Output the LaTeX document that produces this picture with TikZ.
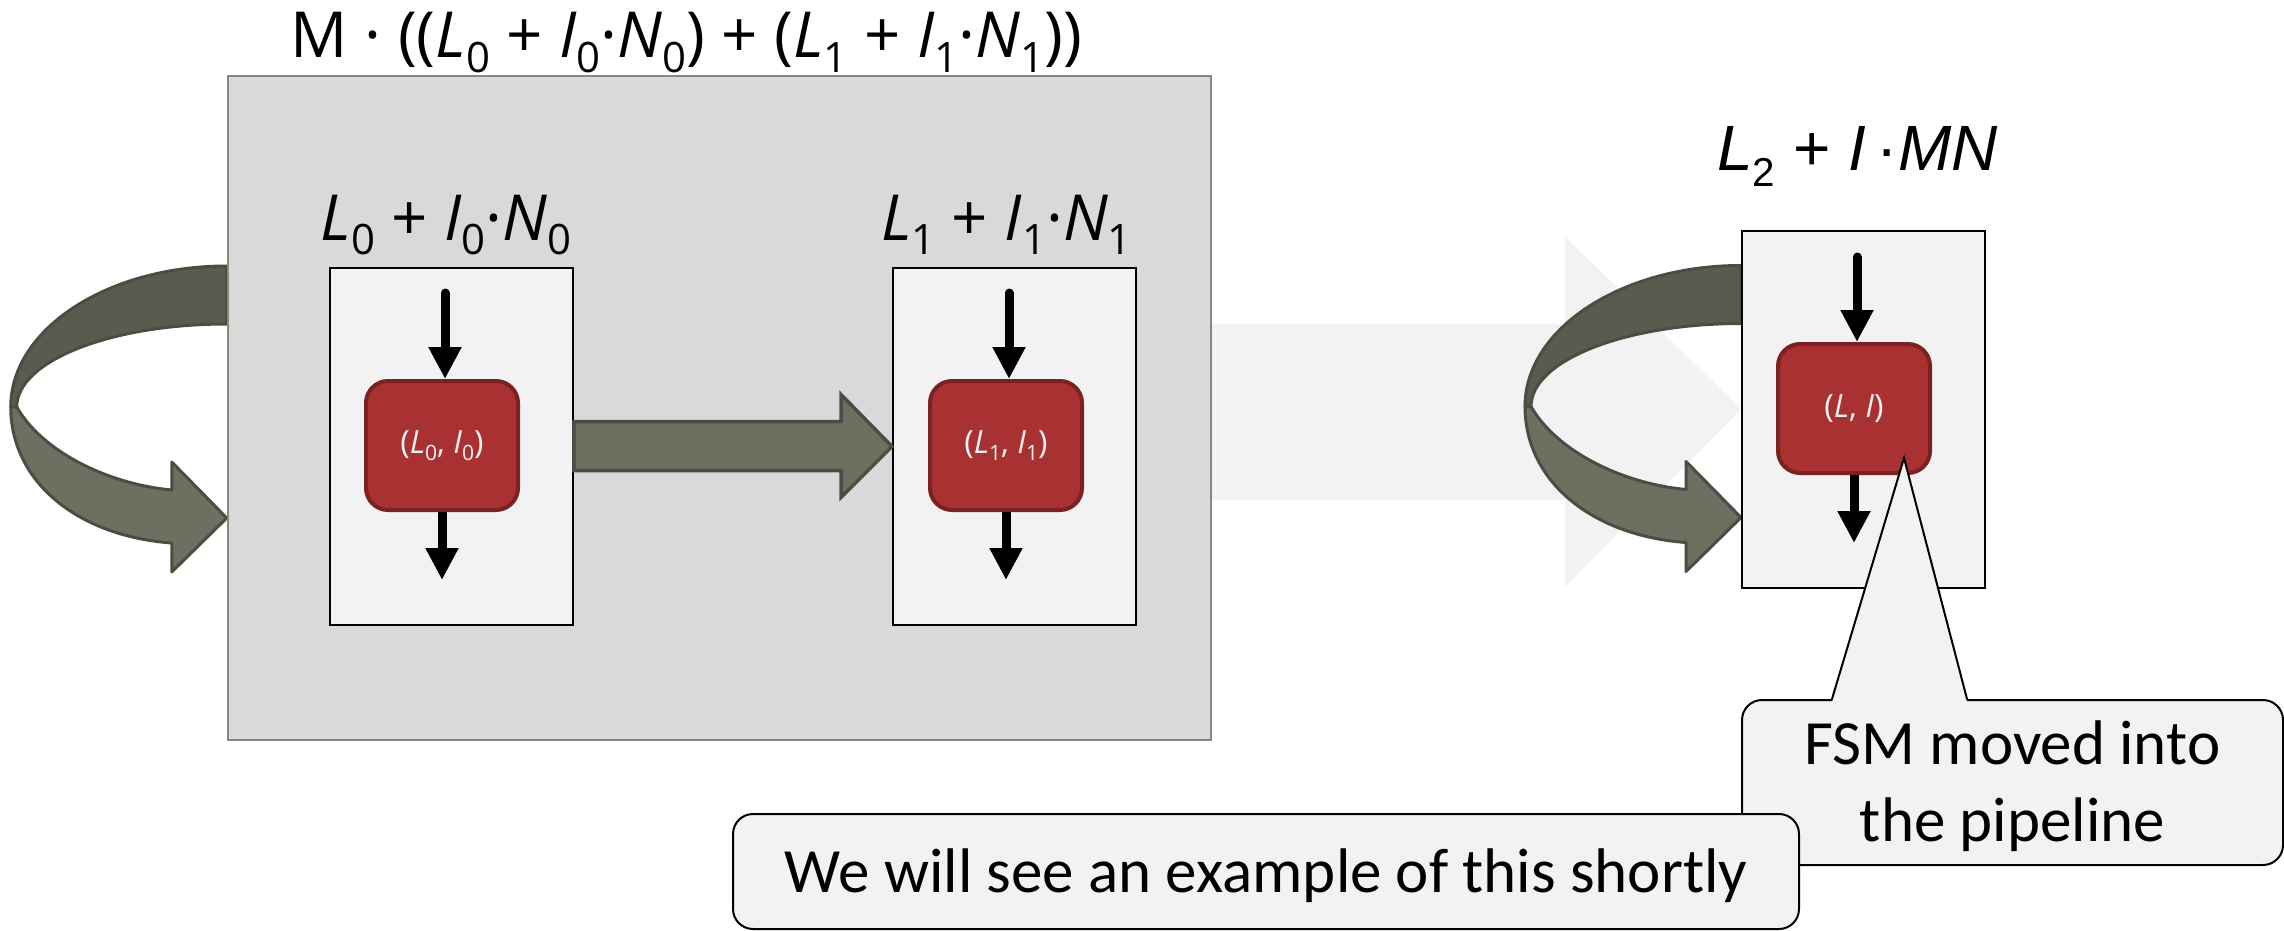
\documentclass[tikz,border=0pt]{standalone}
\usepackage{fontspec}
\setmainfont{Open Sans}
\newfontfamily\calfont{Carlito}
\newfontfamily\arialfont{Liberation Sans}
\usetikzlibrary{arrows.meta,calc}

\definecolor{panelgray}{HTML}{D9D9D9}
\definecolor{paneledge}{HTML}{8A8A7A}
\definecolor{paper}{HTML}{F2F2F2}
\definecolor{fsmred}{HTML}{A93131}
\definecolor{fsmedge}{HTML}{7A2222}
\definecolor{bandlight}{HTML}{6F6F61}
\definecolor{banddark}{HTML}{5A5A4F}
\definecolor{bandedge}{HTML}{4C4D42}

% lowered, reduced index
\newcommand\sbs[1]{\raisebox{-0.23em}{\scalebox{0.66}{#1}}}

\pgfdeclarelayer{bg}
\pgfdeclarelayer{mid}
\pgfsetlayers{bg,mid,main}

\tikzset{
  panel/.style={draw=paneledge, line width=2.5pt, fill=panelgray,
    minimum width=983pt, minimum height=664pt, inner sep=0pt},
  stage/.style={draw=black, line width=2pt, fill=paper,
    minimum width=243pt, minimum height=357pt, inner sep=0pt},
  fsm/.style={draw=fsmedge, line width=4pt, fill=fsmred, rounded corners=22pt,
    minimum width=152pt, minimum height=129pt, inner sep=0pt,
    text=paper, font=\fontsize{32}{38}\selectfont},
  flow/.style={line width=9pt, -{Triangle[width=31pt,length=32pt]}},
  fatarrow/.style={draw=bandedge, line width=3.5pt, fill=bandlight, line join=miter},
  lbl/.style={anchor=base, inner sep=0pt, font=\fontsize{63.5}{76}\selectfont},
  callout/.style={draw=black, line width=2pt, fill=paper, rounded corners=20pt,
    inner sep=0pt, align=center, font=\calfont\fontsize{63}{77}\selectfont},
  uturn/.pic={
    % upper (rear) half of the U-turn band
    \filldraw[fill=banddark, draw=bandedge, line width=3pt, line join=round]
      (0,0) .. controls (-119,0) and (-216,63) .. (-216,141)
      -- (-210,141) .. controls (-210,95) and (-116,58) .. (0,58) -- cycle;
    % lower (front) half with the arrow head
    \filldraw[fill=bandlight, draw=bandedge, line width=3pt, line join=round]
      (-216,141) .. controls (-216,215) and (-150,270) .. (-55,277)
      -- (-55,306) -- (0,252) -- (-55,196) -- (-55,224)
      .. controls (-120,218) and (-185,185) .. (-210,141) -- cycle;
  }
}

\begin{document}
\begin{tikzpicture}[x=1pt, y=-1pt]
\useasboundingbox (0,0) rectangle (2284,931);

% container holding the two stages
\node[panel] (panel) at (719.5,408) {};
\node[lbl] (title) at (686.5,58)
  {M · ((\textit{L}\sbs{0} + \textit{I}\sbs{0}·\textit{N}\sbs{0}) + (\textit{L}\sbs{1} + \textit{I}\sbs{1}·\textit{N}\sbs{1}))};

% stages
\node[stage] (ib0) at (451.25,446.5) {};
\node[stage] (ib1) at (1014.5,446.5) {};
\node[stage] (ib2) at (1863.5,409.5) {};

\node[lbl] (lab0) at (446,240) {\textit{L}\sbs{0} + \textit{I}\sbs{0}·\textit{N}\sbs{0}};
\node[lbl] (lab1) at (1006.5,240) {\textit{L}\sbs{1} + \textit{I}\sbs{1}·\textit{N}\sbs{1}};
\node[anchor=base, inner sep=0pt, font=\arialfont\fontsize{64}{77}\selectfont] (lab2) at (1857.5,171)
  {\textit{L}\raisebox{-0.25em}{\scalebox{0.63}{2}} + \textit{I}\,·\textit{MN}};

% state machines
\node[fsm] (r0) at (442,445.5) {(\textit{L}\sbs{0}, \textit{I}\sbs{0})};
\node[fsm] (r1) at (1006,445.5) {(\textit{L}\sbs{1}, \textit{I}\sbs{1})};
\node[fsm] (r2) at (1854,408.5) {(\textit{L}, \textit{I})};

% data in / out
\coordinate (t0) at (445,293);
\coordinate (t1) at (1009,293);
\coordinate (t2) at (1857,257);
\coordinate (b0) at (442,580);
\coordinate (b1) at (1006,580);
\coordinate (b2) at (1854,543);
\draw[flow, line cap=round] (t0) -- (t0 |- r0.north);
\draw[flow, line cap=round] (t1) -- (t1 |- r1.north);
\draw[flow, line cap=round] (t2) -- (t2 |- r2.north);
\draw[flow] (r0.south) -- (b0);
\draw[flow] (r1.south) -- (b1);
\draw[flow] (r2.south) -- (b2);

% stage 0 feeds stage 1
\filldraw[fatarrow]
  ($(ib0.east)+(0,-25)$) -- ($(ib1.west)+(-51,-25)$) -- ($(ib1.west)+(-51,-52)$)
  -- (ib1.west) -- ($(ib1.west)+(-51,51)$) -- ($(ib1.west)+(-51,24)$)
  -- ($(ib0.east)+(0,24)$) -- cycle;

% background and the pale transformation arrow
\begin{pgfonlayer}{bg}
  \fill[white] (0,0) rectangle (2284,931);
  \fill[paper] ($(ib2.west)+(-530,-86)$) -- ($(ib2.west)+(-176,-86)$)
    -- ($(ib2.west)+(-176,-173)$) -- (ib2.west) -- ($(ib2.west)+(-176,177)$)
    -- ($(ib2.west)+(-176,90)$) -- ($(ib2.west)+(-530,90)$) -- cycle;
\end{pgfonlayer}

% feedback loops
\begin{pgfonlayer}{mid}
  \pic at ($(panel.west)+(0,-142)$) {uturn};
  \pic at ($(ib2.west)+(0,-144)$) {uturn};
\end{pgfonlayer}

% callouts
\node[callout, minimum width=541pt, minimum height=165pt, text height=117pt, text depth=0pt]
  (note1) at (2012.5,782.5) {FSM moved into\\the pipeline};
\coordinate (tip) at (1904,458);
\fill[paper] ($(note1.north)+(-180.5,3)$) -- (tip) -- ($(note1.north)+(-45.5,3)$) -- cycle;
\draw[line width=2pt, line join=miter] ($(note1.north)+(-180.5,0)$) -- (tip) -- ($(note1.north)+(-45.5,0)$);

\node[callout, minimum width=1066pt, minimum height=115pt, text height=41pt, text depth=0pt]
  (note2) at (1266,871.5) {We will see an example of this shortly};
\end{tikzpicture}
\end{document}
